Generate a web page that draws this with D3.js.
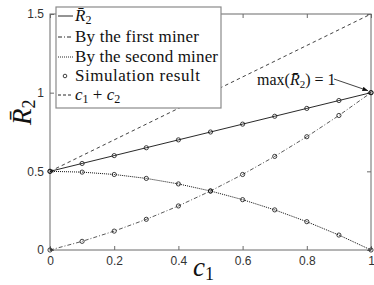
<!DOCTYPE html>
<html>
<head>
<meta charset="utf-8">
<script src="https://cdn.jsdelivr.net/npm/d3@7"></script>
<style>
body { margin: 0; background: #fff; }
svg { display: block; }
</style>
</head>
<body>
<script>
// data
const c1 = [0, 0.1, 0.2, 0.3, 0.4, 0.5, 0.6, 0.7, 0.8, 0.9, 1]
const r2 = [0.5, 0.55, 0.6, 0.65, 0.7, 0.75, 0.8, 0.85, 0.9, 0.95, 1]
const firstMiner = [0, 0.055, 0.12, 0.195, 0.28, 0.375, 0.48, 0.595, 0.72, 0.855, 1]
const secondMiner = [0.5, 0.495, 0.48, 0.455, 0.42, 0.375, 0.32, 0.255, 0.18, 0.095, 0]
const sumC = [[0, 0.5], [1, 1.5]]
const xTicks = [0, 0.2, 0.4, 0.6, 0.8, 1]
const yTicks = [0, 0.5, 1, 1.5]

const width = 374, height = 285
const margin = {top: 14, right: 3, bottom: 35, left: 50}

const svg = d3.select('body').append('svg')
    .attr('width', width)
    .attr('height', height)

const x = d3.scaleLinear().domain([0, 1]).range([margin.left, width - margin.right])
const y = d3.scaleLinear().domain([0, 1.5]).range([height - margin.bottom, margin.top])

const axisCol = '#6b6b6b'
const serif = size => `font-family:'Liberation Serif';font-size:${size}px`

// box + inward ticks on all sides
svg.append('rect')
    .attr('x', x(0)).attr('y', y(1.5))
    .attr('width', x(1) - x(0)).attr('height', y(0) - y(1.5))
    .attr('fill', 'none').attr('stroke', axisCol).attr('stroke-width', 1)

const axes = [
    d3.axisBottom(x).tickValues(xTicks).tickSizeInner(-4).tickSizeOuter(0).tickPadding(6).tickFormat(d3.format('~g')),
    d3.axisTop(x).tickValues(xTicks).tickSizeInner(-4).tickSizeOuter(0).tickFormat(''),
    d3.axisLeft(y).tickValues(yTicks).tickSizeInner(-4).tickSizeOuter(0).tickPadding(6).tickFormat(d3.format('~g')),
    d3.axisRight(y).tickValues(yTicks).tickSizeInner(-4).tickSizeOuter(0).tickFormat('')
]
const pos = [
    `translate(0,${y(0)})`, `translate(0,${y(1.5)})`,
    `translate(${x(0)},0)`, `translate(${x(1)},0)`
]
axes.forEach((a, i) => {
    const g = svg.append('g').attr('transform', pos[i]).call(a)
    g.select('.domain').remove()
    g.selectAll('line').attr('stroke', axisCol)
    g.selectAll('text').attr('fill', '#333')
        .attr('style', "font-family:'Liberation Sans';font-size:12px")
})

const line = d3.line().x(d => x(d[0])).y(d => y(d[1]))
const zip = v => c1.map((c, i) => [c, v[i]])

const series = [
    {pts: sumC, dash: '3.5,3', w: 0.8, dots: false},
    {pts: zip(firstMiner), dash: '4,2,1,2', w: 0.7, dots: true},
    {pts: zip(secondMiner), dash: '1,1', w: 1, dots: true},
    {pts: zip(r2), dash: null, w: 0.9, dots: true}
]

series.forEach(s => {
    svg.append('path')
        .attr('d', line(s.pts))
        .attr('fill', 'none')
        .attr('stroke', '#111')
        .attr('stroke-width', s.w)
        .attr('stroke-dasharray', s.dash)
    if (s.dots) {
        svg.append('g').selectAll('circle')
            .data(s.pts)
            .enter()
            .append('circle')
            .attr('cx', d => x(d[0]))
            .attr('cy', d => y(d[1]))
            .attr('r', 2.1)
            .attr('fill', 'none')
            .attr('stroke', '#111')
            .attr('stroke-width', 0.8)
    }
})

// legend
const lg = svg.append('g')
lg.append('rect')
    .attr('x', 56).attr('y', 7).attr('width', 165).attr('height', 101)
    .attr('fill', '#fff').attr('stroke', '#8a8a8a').attr('stroke-width', 1.2)

const legendRows = [
    {label: null, dash: null, y: 21},
    {label: 'By the first miner', dash: '4,2,1,2', y: 42, w: 124},
    {label: 'By the second miner', dash: '1,1', y: 62, w: 143},
    {label: 'Simulation result', dash: 'dot', y: 81, w: 125},
    {label: null, dash: '3,2', y: 100}
]
legendRows.forEach((r, i) => {
    if (r.dash === 'dot') {
        lg.append('circle').attr('cx', 65).attr('cy', r.y - 5).attr('r', 1.8)
            .attr('fill', 'none').attr('stroke', '#111').attr('stroke-width', 0.8)
    } else {
        lg.append('line').attr('x1', 58).attr('x2', 73).attr('y1', r.y - 5).attr('y2', r.y - 5)
            .attr('stroke', '#111').attr('stroke-width', 0.9).attr('stroke-dasharray', r.dash)
    }
    const t = lg.append('text').attr('x', 75).attr('y', r.y)
        .attr('style', serif(17)).attr('fill', '#111')
    if (i === 0) {
        t.append('tspan').attr('font-style', 'italic').text('R\u0304')
        t.append('tspan').attr('dy', 3).attr('style', 'font-size:12px').text('2')
    } else if (i === 4) {
        t.append('tspan').attr('font-style', 'italic').text('c')
        t.append('tspan').attr('dy', 3).attr('style', 'font-size:12px').text('1')
        t.append('tspan').attr('dy', -3).text(' + ')
        t.append('tspan').attr('font-style', 'italic').text('c')
        t.append('tspan').attr('dy', 3).attr('style', 'font-size:12px').text('2')
    } else {
        t.attr('textLength', r.w).attr('lengthAdjust', 'spacing').text(r.label)
    }
})

// annotation
const ann = svg.append('text').attr('x', 257).attr('y', 85)
    .attr('style', serif(16)).attr('fill', '#111')
ann.append('tspan').text('max(')
ann.append('tspan').attr('font-style', 'italic').text('R\u0304')
ann.append('tspan').attr('dy', 3).attr('style', 'font-size:11px').text('2')
ann.append('tspan').attr('dy', -3).text(') = 1')

svg.append('defs').append('marker')
    .attr('id', 'arr').attr('viewBox', '0 0 10 10').attr('refX', 10).attr('refY', 5)
    .attr('markerWidth', 7).attr('markerHeight', 7).attr('orient', 'auto')
    .append('path').attr('d', 'M0,1L10,5L0,9z').attr('fill', '#111')
svg.append('line')
    .attr('x1', 334).attr('y1', 79).attr('x2', x(1) - 3).attr('y2', y(1) - 2)
    .attr('stroke', '#111').attr('stroke-width', 0.8).attr('marker-end', 'url(#arr)')

// axis labels
const xl = svg.append('text').attr('x', 193).attr('y', 276)
    .attr('style', serif(27)).attr('fill', '#111')
xl.append('tspan').attr('font-style', 'italic').text('c')
xl.append('tspan').attr('dy', 4).attr('style', 'font-size:18px').text('1')

const yl = svg.append('text').attr('transform', 'translate(31,125) rotate(-90)')
    .attr('style', serif(27)).attr('fill', '#111')
yl.append('tspan').attr('font-style', 'italic').text('R\u0304')
yl.append('tspan').attr('dy', 4).attr('style', 'font-size:18px').text('2')
</script>
</body>
</html>
